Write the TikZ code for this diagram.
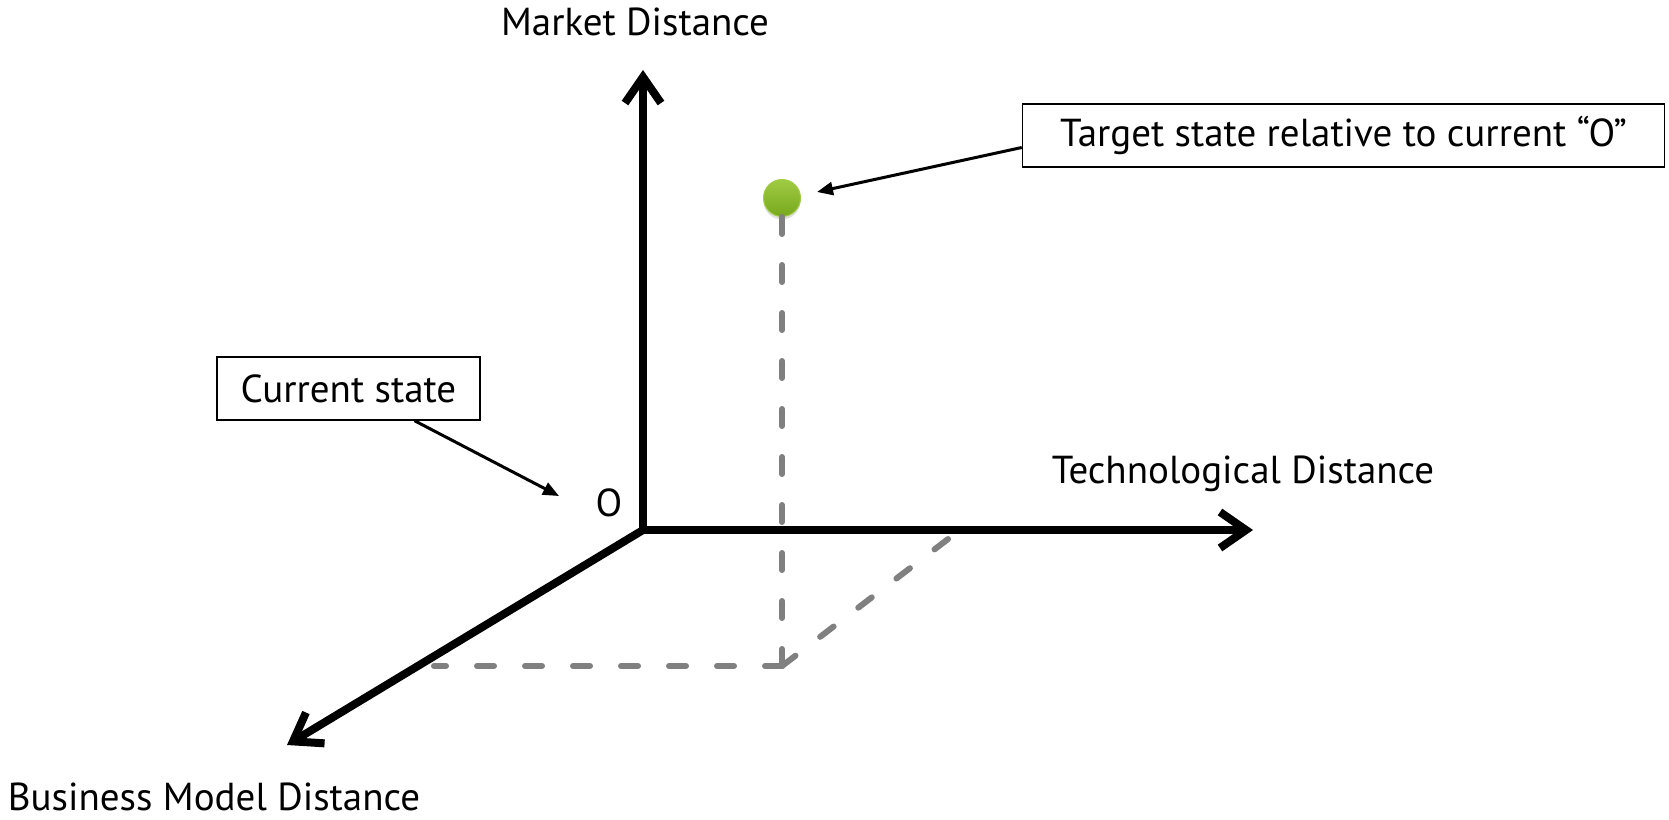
\documentclass[tikz,border=0pt]{standalone}
\usepackage{fontspec}
\setmainfont{PT Sans}
\usepackage{xcolor}
\usepackage{tikz}
\usetikzlibrary{arrows.meta,calc,positioning,shadows}
\definecolor{dashgray}{HTML}{808080}
\definecolor{dotlight}{HTML}{A0CB44}
\definecolor{dotdark}{HTML}{76A81C}
\tikzset{
	x=1pt,y=-1pt,
	axistip/.tip={Straight Barb[length=26pt,width=36pt]},
	axis/.style={line width=8pt,line join=miter},
	proj/.style={dashgray,line width=6pt,line cap=round,dash pattern=on 17pt off 31pt},
	callout/.style={line width=3pt,-{Triangle[length=16pt,width=13pt]}},
	lbl/.style={font=\fontsize{39}{46}\selectfont,inner sep=2pt},
	box/.style={lbl,draw,line width=1.5pt,minimum height=63pt,inner xsep=12pt},
	dot/.style={circle,minimum size=37pt,inner sep=0pt,top color=dotlight,bottom color=dotdark,
		draw=dotlight,line width=1pt,drop shadow={opacity=0.25,shadow xshift=0pt,shadow yshift=-3pt}}
}

\begin{document}
\begin{tikzpicture}
    \useasboundingbox (0,0) rectangle (1669,819);
    \coordinate (O) at (643,530);
    \coordinate (mkt) at (643,70);
    \coordinate (tech) at (1253,530);
    \coordinate (biz) at (287,745);
    
    % projection of the target state
    \node[dot] (dot) at (782,198) {};
    \coordinate (foot) at (782,666);
    \coordinate (bx) at (434,666);
    \coordinate (tx) at (952,536);
    \path[proj] (dot) edge (foot);
    \path[proj] (foot) edge (bx);
    \path[proj] (foot) edge (tx);
    
    \draw[axis,axistip-axistip] (mkt) -- (O) -- (tech);
    \draw[axis,-axistip] (O) -- (biz);
    
    \node[lbl] (mktlbl) at (635,22) {Market Distance};
    \node[lbl] (techlbl) at (1243,474) {Technological Distance};
    \node[lbl] (bizlbl) at (214,797) {Business Model Distance};
    \node[lbl] (olbl) at (609,503) {O};
    
    \node[box, minimum width=263pt] (cur) at (348.5,388.5) {Current state};
    \node[box, minimum width=642pt] (tgt) at (1343.5,135.5) {Target state relative to current “O”};
    
    \coordinate (otip) at (559,496);
    \coordinate (dottip) at (817,192);
    \path[callout] ($(cur.south west)!.75!(cur.south east)$) edge (otip);
    \path[callout] ([yshift=-12pt]tgt.west) edge (dottip);
\end{tikzpicture}
\end{document}
